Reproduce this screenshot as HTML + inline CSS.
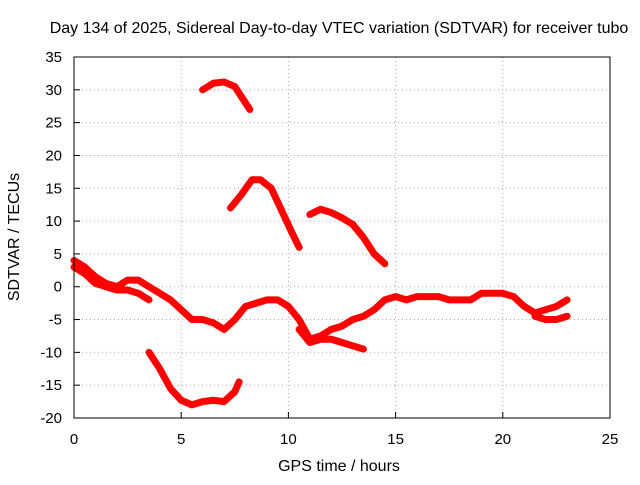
<!DOCTYPE html>
<html><head><meta charset="utf-8"><style>
body{margin:0;background:#fff;font-family:"Liberation Sans",sans-serif}
svg text{font-family:"Liberation Sans",sans-serif;font-size:15px;fill:#000}
</style></head><body>
<svg id="chart" width="640" height="480" viewBox="0 0 640 480" xmlns="http://www.w3.org/2000/svg">
<rect width="640" height="480" fill="#fff"/>
<text x="339" y="33" text-anchor="middle" style="font-size:16px">Day 134 of 2025, Sidereal Day-to-day VTEC variation (SDTVAR) for receiver tubo</text>
<text x="339" y="471" text-anchor="middle" style="font-size:16px">GPS time / hours</text>
<text transform="translate(19,237) rotate(-90)" text-anchor="middle" style="font-size:16px">SDTVAR / TECUs</text>
<g id="grid"></g><g id="series"></g>
<rect x="74" y="57" width="536" height="361" fill="none" stroke="#000" stroke-width="1"/>
</svg>
<script>
const xTicks=[0,5,10,15,20,25];
const yTicks=[35,30,25,20,15,10,5,0,-5,-10,-15,-20];
const mainT=[0,0.5,1,1.5,2,2.5,3,3.5,4,4.5,5,5.5,6,6.5,7,7.5,8,8.5,9,9.5,10,10.5,11,11.5,12,12.5,13,13.5,14,14.5,15,15.5,16,16.5,17,17.5,18,18.5,19,19.5,20,20.5,21,21.5,22,22.5,23];
const mainV=[4,3,1.5,0.5,0,1,1,0,-1,-2,-3.5,-5,-5,-5.5,-6.5,-5,-3,-2.5,-2,-2,-3,-5,-8,-7.5,-6.5,-6,-5,-4.5,-3.5,-2,-1.5,-2,-1.5,-1.5,-1.5,-2,-2,-2,-1,-1,-1,-1.5,-3,-4,-3.5,-3,-2];
const strandT=[0,0.5,1,1.5,2,2.5,3,3.5];
const strandV=[3,2,0.5,0,-0.5,-0.5,-1,-2];
const lowT=[10.5,11,11.5,12,12.5,13,13.5];
const lowV=[-6.5,-8.5,-8,-8,-8.5,-9,-9.5];
const tailT=[21.5,22,22.5,23];
const tailV=[-4.5,-5,-5,-4.5];
const bT=[6,6.5,7,7.5,8,8.2];
const bV=[30,31,31.2,30.5,28,27];
const cT=[7.3,7.8,8.3,8.7,9.2,9.7,10.2,10.5];
const cV=[12,14,16.3,16.3,15,11.5,8,6];
const dT=[11,11.5,12,12.5,13,13.5,14,14.5];
const dV=[11,11.8,11.3,10.5,9.5,7.5,5,3.5];
const eT=[3.5,4,4.5,5,5.5,6,6.5,7,7.5,7.7];
const eV=[-10,-12.5,-15.5,-17.3,-18,-17.5,-17.3,-17.5,-16,-14.5];
const X=t=>74+t*(536/25), Y=v=>57+(35-v)*(361/55);
const NS="http://www.w3.org/2000/svg";
const grid=document.getElementById('grid'), ser=document.getElementById('series');
function mk(tag,attrs,parent){const e=document.createElementNS(NS,tag);for(const k in attrs)e.setAttribute(k,attrs[k]);parent.appendChild(e);return e;}
xTicks.forEach(t=>{
  if(t>0&&t<25){const l=mk('line',{x1:X(t),x2:X(t),y1:57,y2:418,stroke:'#aaa','stroke-dasharray':'1,3'},grid);
  
  }
  const tk=mk('line',{x1:X(t),x2:X(t),y1:418,y2:412,stroke:'#000'},grid);
  
  
  const tx=mk('text',{x:X(t),y:444,'text-anchor':'middle'},grid);tx.textContent=t;
  
  
});
yTicks.forEach(v=>{
  if(v<35&&v>-20){const l=mk('line',{x1:74,x2:610,y1:Y(v),y2:Y(v),stroke:'#aaa','stroke-dasharray':'1,3'},grid);
  
  }
  const tk=mk('line',{x1:74,x2:80,y1:Y(v),y2:Y(v),stroke:'#000'},grid);
  
  
  const tx=mk('text',{x:62,y:Y(v)+5,'text-anchor':'end'},grid);tx.textContent=v;
  
  
});
function series(ts,vs,name){
  const p=mk('polyline',{points:ts.map((t,i)=>X(t)+','+Y(vs[i])).join(' '),fill:'none',stroke:'#f00','stroke-width':7,'stroke-linejoin':'round','stroke-linecap':'round'},ser);
  
  
}
series(mainT,mainV,'sdtvar-main-band');
series(strandT,strandV,'sdtvar-early-strand');
series(lowT,lowV,'sdtvar-low-strand');
series(tailT,tailV,'sdtvar-tail-strand');
series(bT,bV,'sdtvar-arc-30');
series(cT,cV,'sdtvar-arc-16');
series(dT,dV,'sdtvar-arc-11');
series(eT,eV,'sdtvar-arc-minus18');
</script>
</body></html>
